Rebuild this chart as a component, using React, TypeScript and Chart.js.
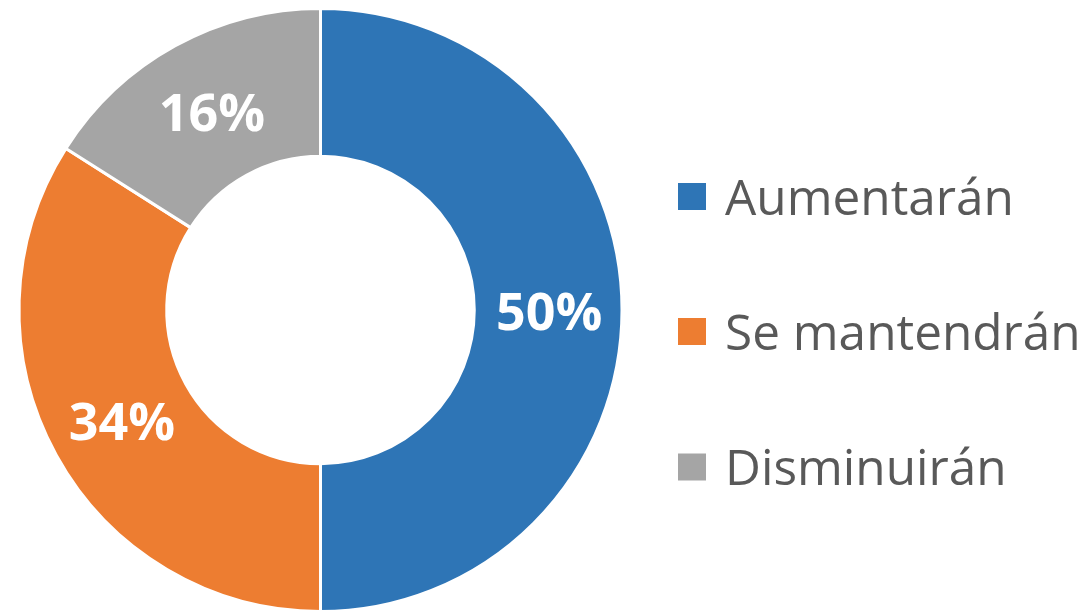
import React, { useEffect, useRef } from "react";
import { Chart, registerables } from "chart.js";

Chart.register(...registerables);

const categories = ["Aumentarán", "Se mantendrán", "Disminuirán"];
const values = [50, 34, 16];
const colors = ["#2E75B6", "#ED7D31", "#A5A5A5"];

const labelPlugin = {
  id: "sliceLabels",
  afterDatasetsDraw(chart: any) {
    const ctx = chart.ctx;
    const meta = chart.getDatasetMeta(0);
    const data = chart.data.datasets[0].data as number[];
    const total = data.reduce((a, b) => a + b, 0);
    ctx.save();
    ctx.fillStyle = "#FFFFFF";
    ctx.font = "bold 52px 'Open Sans'";
    ctx.textAlign = "center";
    ctx.textBaseline = "alphabetic";
    meta.data.forEach((arc: any, i: number) => {
      const p = arc.tooltipPosition();
      const pct = Math.round((data[i] / total) * 100) + "%";
      ctx.fillText(pct, p.x + 1, p.y + 20);
    });
    ctx.restore();
  },
};

const legendPlugin = {
  id: "sideLegend",
  afterDraw(chart: any) {
    const ctx = chart.ctx;
    const labels = chart.data.labels as string[];
    const bg = chart.data.datasets[0].backgroundColor as string[];
    ctx.save();
    ctx.font = "49.5px 'Open Sans'";
    ctx.textBaseline = "alphabetic";
    ctx.textAlign = "left";
    const x0 = 678;
    const ys = [196.5, 331.5, 467];
    labels.forEach((lab, i) => {
      const cy = ys[i];
      ctx.fillStyle = bg[i];
      ctx.fillRect(x0, cy - 13.5, 28, 27);
      ctx.fillStyle = "#595959";
      ctx.fillText(lab, 725, cy + 18);
    });
    ctx.restore();
  },
};

export default function App() {
  const ref = useRef<HTMLCanvasElement | null>(null);
  useEffect(() => {
    document.body.style.margin = "0";
    const chart = new Chart(ref.current as HTMLCanvasElement, {
      type: "doughnut",
      data: {
        labels: categories,
        datasets: [
          {
            data: values,
            backgroundColor: colors,
            borderColor: "#FFFFFF",
            borderWidth: 3,
          },
        ],
      },
      options: {
        animation: false,
        responsive: false,
        cutout: "51%",
        layout: { padding: { left: 15, right: 457, top: 7, bottom: -2 } },
        plugins: {
          legend: { display: false },
          tooltip: { enabled: false },
        },
      },
      plugins: [labelPlugin, legendPlugin],
    });
    return () => chart.destroy();
  }, []);
  return (
    <div style={{ width: 1083, height: 613, background: "#fff" }}>
      <canvas ref={ref} width={1083} height={613} style={{ display: "block" }} />
    </div>
  );
}
